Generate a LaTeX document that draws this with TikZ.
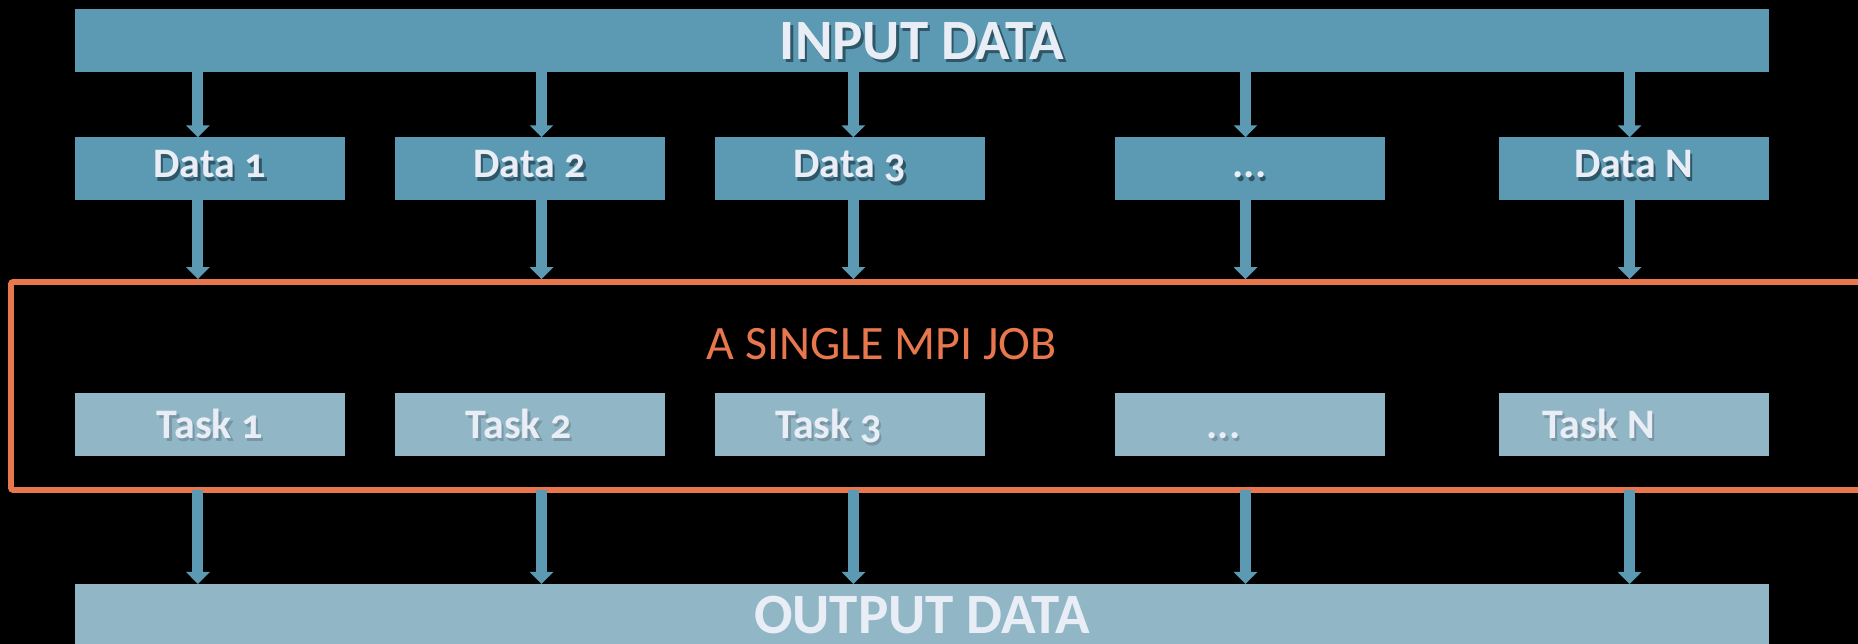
\documentclass[tikz,border=0pt]{standalone}
\usepackage{fontspec}
\setmainfont{Carlito}[Numbers=OldStyle]
\usetikzlibrary{arrows.meta}
\definecolor{darkbox}{HTML}{5B9AB2}
\definecolor{lightbox}{HTML}{91B7C7}
\definecolor{txt}{HTML}{E9EEF6}
\definecolor{jobc}{HTML}{E8774E}
\definecolor{shadowd}{HTML}{2F5667}
\definecolor{shadowl}{HTML}{7896A4}
\newcommand{\shtx}[2]{\makebox[0pt][l]{\hspace{2.5pt}\raisebox{-3.5pt}{\textcolor{#1}{#2}}}#2}
\begin{document}
\begin{tikzpicture}[x=1pt,y=1pt,
  bigbox/.style={fill=darkbox, minimum width=1694.3pt, minimum height=62.8pt, inner sep=0pt,
    text=txt, font=\fontsize{57}{57}\selectfont\bfseries, text height=37pt, text depth=0pt},
  databox/.style={fill=darkbox, minimum width=270pt, minimum height=62.8pt, inner sep=0pt,
    text=txt, font=\fontsize{42}{42}\selectfont\bfseries, text height=27pt, text depth=9pt},
  taskbox/.style={databox, fill=lightbox, text depth=0pt},
  flow/.style={draw=darkbox, line width=11pt, -{Triangle[width=23pt,length=12pt]}},
  jobbox/.style={draw=jobc, line width=5.7pt, rounded corners=2pt, inner sep=0pt,
    minimum width=1864pt, minimum height=208pt}
]
\useasboundingbox (0,0) rectangle (1858,644);
\clip (0,0) rectangle (1858,644);
\fill[black] (0,0) rectangle (1858,644);

% job frame
\node[jobbox] (job) at (943,258) {};
\node[anchor=base, text=jobc, font=\fontsize{48}{48}\selectfont] (title) at (881.6,284) {A SINGLE MPI JOB};

% input / output
\node[bigbox] (in) at (922,603.1) {\shtx{shadowd}{INPUT DATA}};
\node[bigbox, fill=lightbox, text height=35pt] (out) at (922,28.4) {OUTPUT DATA};

% data boxes
\node[databox] (d1) at (209.7,475.1) {\shtx{shadowd}{Data 1}};
\node[databox] (d2) at (529.7,475.1) {\shtx{shadowd}{Data 2}};
\node[databox] (d3) at (849.6,475.1) {\shtx{shadowd}{Data 3}};
\node[databox] (d4) at (1249.5,475.1) {\shtx{shadowd}{...}};
\node[databox] (d5) at (1633.5,475.1) {\shtx{shadowd}{Data N}};

% task boxes
\node[taskbox] (t1) at (209.7,219.2) {\shtx{shadowl}{Task 1}};
\node[taskbox] (t2) at (529.7,219.2) {\shtx{shadowl}{Task 2}\kern22pt\relax};
\node[taskbox] (t3) at (849.6,219.2) {\shtx{shadowl}{Task 3}\kern42pt\relax};
\node[taskbox] (t4) at (1249.5,219.2) {\shtx{shadowl}{...}\kern52pt\relax};
\node[taskbox] (t5) at (1633.5,219.2) {\shtx{shadowl}{Task N}\kern70pt\relax};

% arrow columns
\coordinate (c1) at (197.9,0);
\coordinate (c2) at (541.5,0);
\coordinate (c3) at (853.4,0);
\coordinate (c4) at (1245.5,0);
\coordinate (c5) at (1629.6,0);

\foreach \i in {1,...,5}{
  \draw[flow] (c\i |- in.south) -- (c\i |- d\i.north);
  \draw[flow] (c\i |- d\i.south) -- (c\i |- job.north);
  \draw[flow] ([yshift=3pt]c\i |- job.south) -- (c\i |- out.north);
}
\end{tikzpicture}
\end{document}
